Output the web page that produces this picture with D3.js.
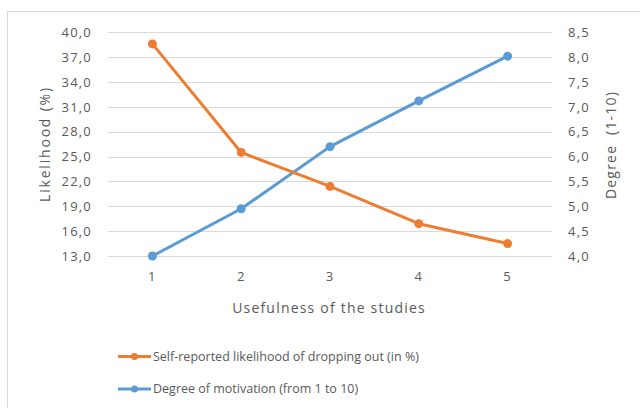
<!DOCTYPE html>
<html>
<head>
<meta charset="utf-8">
<script src="https://cdn.jsdelivr.net/npm/d3@7"></script>
<style>
  body { margin: 0; background: #fff; }
  svg text { font-family: "Open Sans", "Liberation Sans", sans-serif; fill: #595959; }
</style>
</head>
<body>
<div class="container"></div>
<script>
const WIDTH = 640;
const HEIGHT = 408;
const LEFT = 108, RIGHT = 552, TOP = 32.3, BOTTOM = 256;

// data
var categories = ['1', '2', '3', '4', '5'];
var dropout = [38.6, 25.5, 21.4, 16.9, 14.5];
var motivation = [4.0, 4.95, 6.2, 7.12, 8.02];
var leftTicks = [13, 16, 19, 22, 25, 28, 31, 34, 37, 40];
var rightTicks = [4.0, 4.5, 5.0, 5.5, 6.0, 6.5, 7.0, 7.5, 8.0, 8.5];
var seriesNames = ['Self-reported likelihood of dropping out (in %)', 'Degree of motivation (from 1 to 10)'];
var colors = ['#ED7D31', '#5B9BD5'];

var fmt = function(d){ return d.toFixed(1).replace('.', ','); };

var svg = d3.select('.container').append('svg')
    .attr('width', WIDTH)
    .attr('height', HEIGHT);

// chart frame
svg.append('rect')
    .attr('x', 7.5).attr('y', 11.5)
    .attr('width', 700).attr('height', 500)
    .attr('fill', 'none').attr('stroke', '#d9d9d9');

var xScale = d3.scaleBand().domain(categories).range([LEFT, RIGHT]);
var yLeft = d3.scaleLinear().domain([13, 40]).range([BOTTOM, TOP]);
var yRight = d3.scaleLinear().domain([4, 8.5]).range([BOTTOM, TOP]);

// gridlines
svg.append('g')
    .selectAll('line')
    .data(leftTicks)
    .enter().append('line')
    .attr('x1', LEFT).attr('x2', RIGHT)
    .attr('y1', function(d){ return Math.round(yLeft(d)) + 0.5; })
    .attr('y2', function(d){ return Math.round(yLeft(d)) + 0.5; })
    .attr('stroke', '#d9d9d9').attr('stroke-width', 1);

var styleTicks = function(g){
    g.select('.domain').remove();
    g.selectAll('text')
        .style('font-size', '13px')
        .style('letter-spacing', '1.2px')
        .style('fill', '#595959');
};

var leftAxis = d3.axisLeft(yLeft).tickValues(leftTicks).tickFormat(fmt).tickSize(0).tickPadding(16);
svg.append('g').attr('transform', 'translate(' + LEFT + ',0)').call(leftAxis).call(styleTicks);

var rightAxis = d3.axisRight(yRight).tickValues(rightTicks).tickFormat(fmt).tickSize(0).tickPadding(16);
svg.append('g').attr('transform', 'translate(' + RIGHT + ',0)').call(rightAxis).call(styleTicks);

var xAxis = d3.axisBottom(xScale).tickSize(0).tickPadding(16);
svg.append('g').attr('transform', 'translate(0,' + BOTTOM + ')').call(xAxis).call(styleTicks);

// axis titles
svg.append('text')
    .attr('x', 329).attr('y', 313)
    .attr('text-anchor', 'middle')
    .style('font-size', '14px')
    .style('letter-spacing', '1.2px')
    .text('Usefulness of the studies');

svg.append('text')
    .attr('transform', 'translate(50,144) rotate(-90)')
    .attr('text-anchor', 'middle')
    .style('font-size', '14px')
    .style('letter-spacing', '1.8px')
    .text('Likelihood (%)');

svg.append('text')
    .attr('transform', 'translate(616,145) rotate(-90)')
    .attr('text-anchor', 'middle')
    .style('font-size', '14px')
    .style('letter-spacing', '1.2px')
    .style('word-spacing', '5px')
    .text('Degree (1-10)');

// series
var cx = function(d, i){ return xScale(categories[i]) + xScale.bandwidth() / 2; };

function drawSeries(values, scale, color) {
    var line = d3.line()
        .x(cx)
        .y(function(d){ return scale(d); });
    svg.append('path')
        .attr('d', line(values))
        .attr('fill', 'none')
        .attr('stroke', color)
        .attr('stroke-width', 3)
        .attr('stroke-linejoin', 'round');
    svg.append('g').selectAll('circle')
        .data(values)
        .enter().append('circle')
        .attr('cx', cx)
        .attr('cy', function(d){ return scale(d); })
        .attr('r', 4.5)
        .attr('fill', color);
}

drawSeries(motivation, yRight, colors[1]);
drawSeries(dropout, yLeft, colors[0]);

// legend
var legend = svg.append('g').selectAll('g')
    .data(seriesNames)
    .enter().append('g')
    .attr('transform', function(d, i){ return 'translate(118,' + (356.5 + i * 32.5) + ')'; });

legend.append('line')
    .attr('x1', 0).attr('x2', 33)
    .attr('stroke', function(d, i){ return colors[i]; })
    .attr('stroke-width', 3);
legend.append('circle')
    .attr('cx', 16.5).attr('r', 3.5)
    .attr('fill', function(d, i){ return colors[i]; });
legend.append('text')
    .attr('x', 35).attr('dy', '0.35em')
    .style('font-size', '12.5px')
    .text(function(d){ return d; });
</script>
</body>
</html>
